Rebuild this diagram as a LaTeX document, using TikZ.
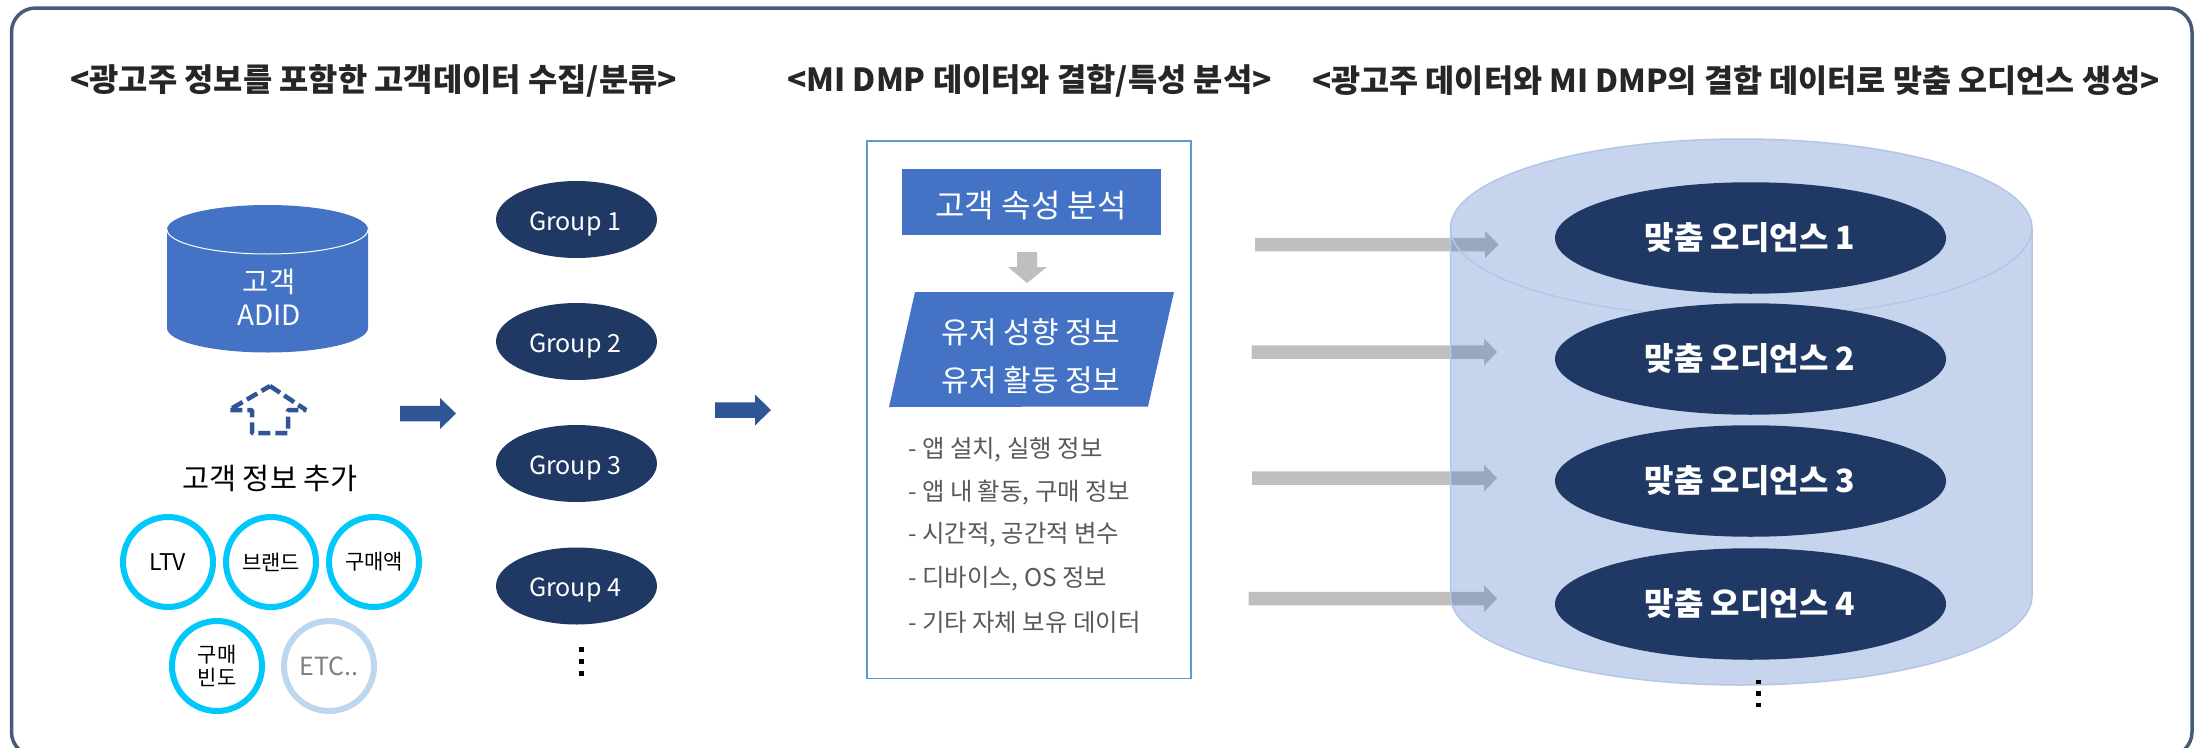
\documentclass[tikz,border=0pt]{standalone}
\usepackage{fontspec}
\setmainfont{Noto Sans CJK KR}
\usetikzlibrary{shapes.geometric}
\definecolor{frameC}{HTML}{465A7A}
\definecolor{blueC}{HTML}{4472C4}
\definecolor{navyC}{HTML}{203864}
\definecolor{arrowC}{HTML}{2F5597}
\definecolor{cyanC}{HTML}{00C8FA}
\definecolor{paleC}{HTML}{BDD7EE}
\definecolor{grayC}{HTML}{BFBFBF}
\definecolor{listC}{HTML}{595959}
\definecolor{titleC}{HTML}{262626}
\definecolor{boxC}{HTML}{5B9BD5}
\definecolor{rimC}{HTML}{B4C7E7}
\newcommand{\fs}[1]{\fontsize{#1}{#1}\selectfont}
\tikzset{
  x=1pt,y=-1pt,
  titletext/.style={inner sep=0,text=titleC,font=\fs{31.8}\bfseries},
  groupnode/.style={ellipse,fill=navyC,text=white,minimum width=161pt,minimum height=77pt,inner sep=0,font=\fs{25}},
  grouptext/.style={inner sep=0,text=white,font=\fs{25}},
  audnode/.style={ellipse,fill=navyC,minimum width=391pt,minimum height=111.5pt,inner sep=0},
  audtext/.style={inner sep=0,text=white,font=\fs{32}\bfseries},
  ringnode/.style={circle,draw=cyanC,line width=6pt,fill=white,minimum size=90pt,inner sep=0,font=\fs{21},align=center,text=black},
  listtext/.style={inner sep=0,anchor=west,text=listC,font=\fs{24.4}},
  whitetext/.style={inner sep=0,text=white,font=\fs{30}},
  blockblue/.style={fill=arrowC},
  blockgray/.style={fill=grayC},
  dot/.style={fill=black,inner sep=0,minimum size=#1},
}
\newcommand{\rarrow}[6]{% style, x0, xh, xt, yc, half shaft
  \fill[#1] (#2,#5-#6) -- (#3,#5-#6) -- (#3,#5-2*#6) -- (#4,#5) -- (#3,#5+2*#6) -- (#3,#5+#6) -- (#2,#5+#6) -- cycle;}
% half ellipse from left point to right point, bulging by signed amount #4 in y
\newcommand{\halfell}[4]{% xl, xr, y, bulge
  .. controls (#1,#3+.5523*#4) and ({(#1+#2)/2-.5523*(#2-#1)/2},#3+#4) .. ({(#1+#2)/2},#3+#4)
  .. controls ({(#1+#2)/2+.5523*(#2-#1)/2},#3+#4) and (#2,#3+.5523*#4) .. (#2,#3)}
\newcommand{\halfellback}[4]{% from right to left
  .. controls (#2,#3+.5523*#4) and ({(#1+#2)/2+.5523*(#2-#1)/2},#3+#4) .. ({(#1+#2)/2},#3+#4)
  .. controls ({(#1+#2)/2-.5523*(#2-#1)/2},#3+#4) and (#1,#3+.5523*#4) .. (#1,#3)}
\begin{document}
\begin{tikzpicture}
\useasboundingbox (0,0) rectangle (2195,747);
\fill[white] (0,0) rectangle (2195,747);
\draw[frameC,line width=3.5pt,rounded corners=24pt] (11.5,8) rectangle (2192,756);

% titles
\node[titletext,anchor=west] (t1) at (70,81) {<광고주 정보를 포함한 고객데이터 수집/분류>};
\node[titletext,anchor=west] (t2) at (787,81) {<MI DMP 데이터와 결합/특성 분석>};
\node[titletext,anchor=west,font=\fs{31.6}\bfseries] (t3) at (1312,81) {<광고주 데이터와 MI DMP의 결합 데이터로 맞춤 오디언스 생성>};

% customer cylinder
\fill[blueC] (167,229.5) \halfell{167}{368}{229.5}{-24.5} -- (368,328) \halfellback{167}{368}{328}{24.5} -- cycle;
\draw[white,line width=1pt] (167,229.5) \halfell{167}{368}{229.5}{24.5};
\node[inner sep=0,text=white,font=\fs{28.5}] (adid1) at (269,282) {고객};
\node[inner sep=0,text=white,font=\fs{28}] (adid2) at (269,315) {ADID};

% dashed house arrow
\draw[arrowC,line width=4.5pt,dash pattern=on 12pt off 5pt,line join=bevel]
  (270,386) -- (306,410) -- (288,410) -- (288,433) -- (252,433) -- (252,410) -- (229,410) -- cycle;
\node[inner sep=0,text=black,font=\fs{29.4}] (add) at (270,478) {고객 정보 추가};

% rings
\node[ringnode,font=\fs{23}] (r1) at (168,562) {LTV};
\node[ringnode] (r2) at (271,562) {브랜드};
\node[ringnode] (r3) at (374,562) {구매액};
\node[ringnode] (r4) at (217,666) {구매\\[2pt]빈도};
\node[ringnode,draw=paleC,text=gray,font=\fs{25}] (r5) at (329,666) {ETC..};

% groups
\node[groupnode] (g1) at (576.5,219.5) {};
\node[groupnode] (g2) at (576.5,341.5) {};
\node[groupnode] (g3) at (576.5,463.5) {};
\node[groupnode] (g4) at (576.5,586) {};
\node[grouptext] (gt1) at (575,224) {Group 1};
\node[grouptext] (gt2) at (575,346) {Group 2};
\node[grouptext] (gt3) at (575,468) {Group 3};
\node[grouptext] (gt4) at (575,590.5) {Group 4};
\foreach \yy/\nn in {649/a,661/b,673/c}
  \node[dot=5pt] (gd\nn) at (581,\yy) {};

% blue arrows
\rarrow{blockblue}{400}{440}{456}{413.5}{7.75}
\rarrow{blockblue}{715}{755}{771}{410}{7.75}

% analysis box
\node[draw=boxC,line width=1.5pt,fill=white,minimum width=324pt,minimum height=537.5pt,inner sep=0] (box) at (1029,409.5) {};
\node[fill=blueC,minimum width=259pt,minimum height=65.5pt,inner sep=0] (attr) at (1031.5,202) {};
\node[inner sep=0,text=white,font=\fs{32}] (attrt) at (1031,206) {고객 속성 분석};
\fill[grayC] (1017,252) -- (1037,252) -- (1037,267) -- (1047,267) -- (1027,283) -- (1008,267) -- (1017,267) -- cycle;
\fill[blueC] (915,292) -- (1174,292) -- (1148,406.5) -- (889,407) -- cycle;
\node[whitetext] (u1) at (1031,332.5) {유저 성향 정보};
\node[whitetext] (u2) at (1031,380) {유저 활동 정보};
\node[listtext] (l1) at (908,449.5) {- 앱 설치, 실행 정보};
\node[listtext] (l2) at (908,492.5) {- 앱 내 활동, 구매 정보};
\node[listtext] (l3) at (908,535) {- 시간적, 공간적 변수};
\node[listtext] (l4) at (908,578.5) {- 디바이스, OS 정보};
\node[listtext] (l5) at (908,622) {- 기타 자체 보유 데이터};

% gray arrows (under the translucent cylinder)
\rarrow{blockgray}{1255}{1485}{1498.5}{244.5}{6.75}
\rarrow{blockgray}{1251.5}{1484}{1497}{352}{6.75}
\rarrow{blockgray}{1252}{1484}{1497}{478}{6.75}
\rarrow{blockgray}{1248.5}{1484}{1497}{598.5}{6.75}

% audience cylinder
\path[fill=blueC,fill opacity=.3,draw=rimC,line width=1.5pt] (1450.5,228) \halfell{1450.5}{2032}{228}{-89} -- (2032,596) \halfellback{1450.5}{2032}{596}{89} -- cycle;
\draw[rimC,line width=1.5pt] (1450.5,228) \halfell{1450.5}{2032}{228}{89};
\node[audnode] (a1) at (1750.5,238) {};
\node[audnode] (a2) at (1750.5,359) {};
\node[audnode] (a3) at (1750.5,481) {};
\node[audnode] (a4) at (1750.5,604) {};
\node[audtext] (at1) at (1750,238) {맞춤 오디언스 1};
\node[audtext] (at2) at (1750,359) {맞춤 오디언스 2};
\node[audtext] (at3) at (1750,481) {맞춤 오디언스 3};
\node[audtext] (at4) at (1750,604) {맞춤 오디언스 4};
\foreach \yy/\nn in {682/a,693.5/b,705/c}
  \node[dot=4.5pt] (ad\nn) at (1758.5,\yy) {};
\end{tikzpicture}
\end{document}
